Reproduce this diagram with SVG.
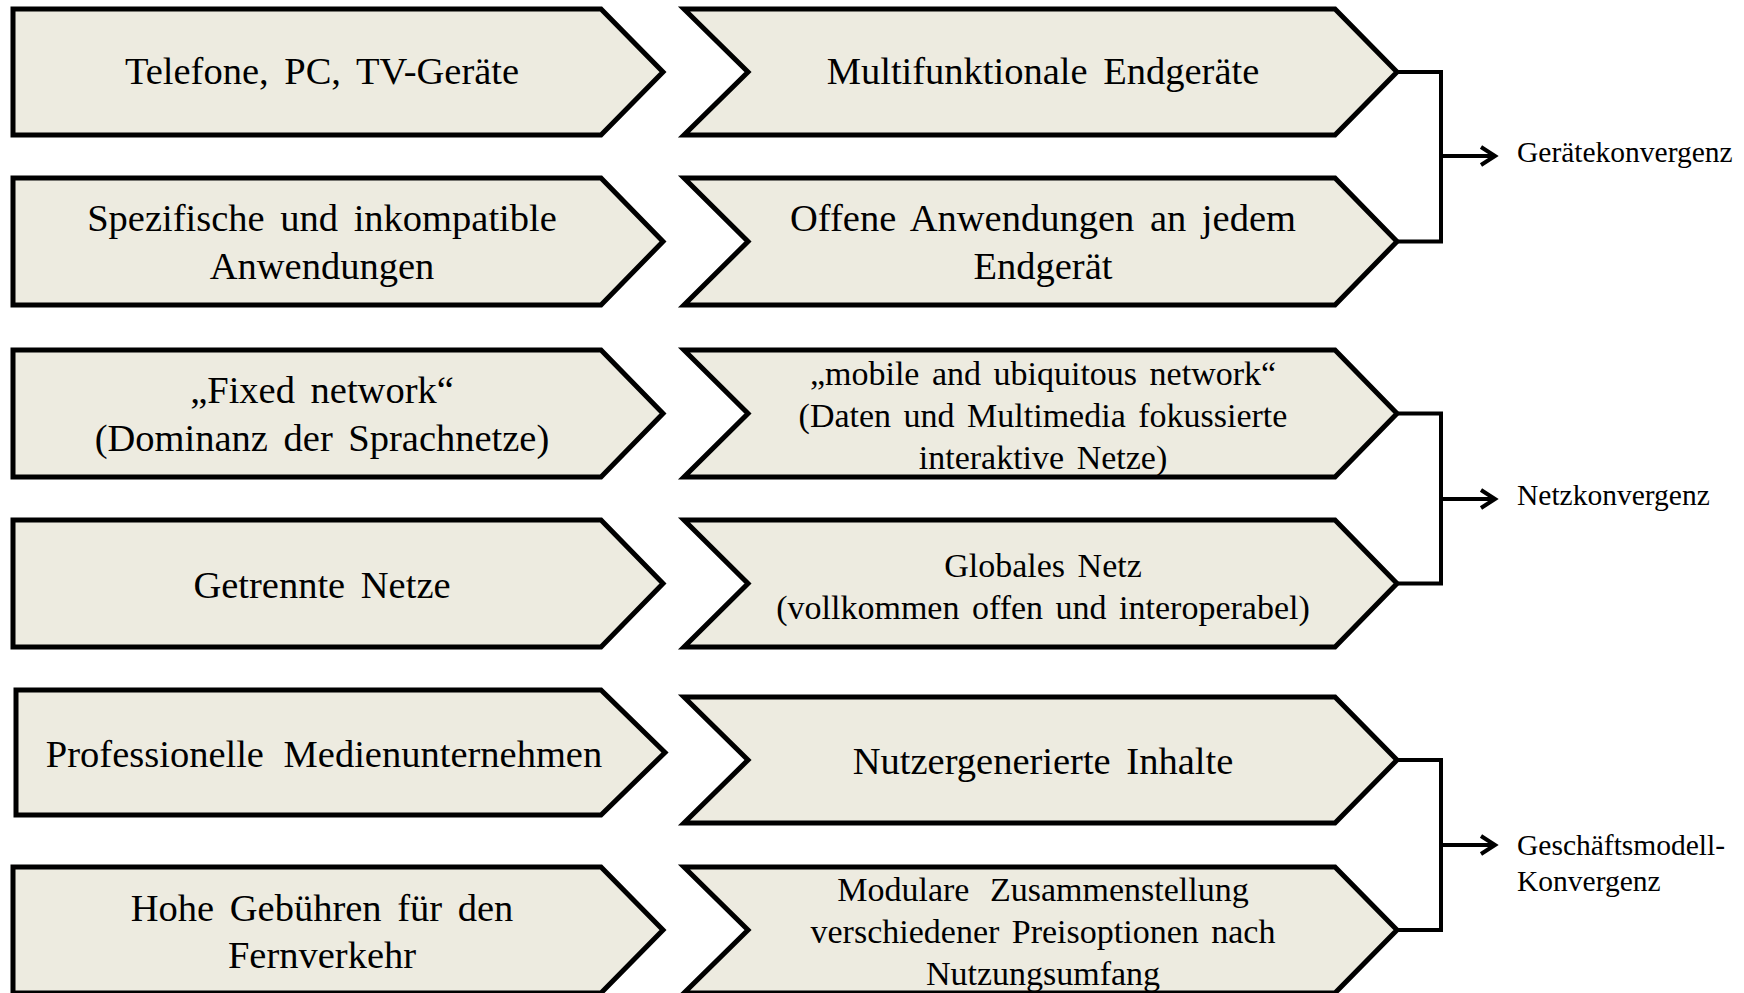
<svg xmlns="http://www.w3.org/2000/svg" width="1744" height="993" viewBox="0 0 1744 993">
<defs>
<style>
.box{fill:#EDEBE0;stroke:#000;stroke-width:5;stroke-linejoin:miter}
.t{font-family:"Liberation Serif","Times New Roman",serif;font-size:38.5px;fill:#000;text-anchor:middle;word-spacing:6px}
.s{font-family:"Liberation Serif","Times New Roman",serif;font-size:34px;fill:#000;text-anchor:middle;word-spacing:4px}
.lab{font-family:"Liberation Serif","Times New Roman",serif;font-size:29.5px;fill:#000}
.br{fill:none;stroke:#000;stroke-width:4}
</style>
<marker id="ah" markerWidth="22" markerHeight="22" viewBox="0 0 22 22" refX="18" refY="11" orient="auto" markerUnits="userSpaceOnUse">
<path d="M4,2 L18,11 L4,20" fill="none" stroke="#000" stroke-width="4"/>
</marker>
</defs>
<rect width="1744" height="993" fill="#fff"/>

<g id="l1"><polygon class="box" points="13,9 601,9 663,72 601,135 13,135"/><text class="t" x="322" y="84">Telefone, PC, TV-Geräte</text></g>
<g id="l2"><polygon class="box" points="13,178 601,178 663,241.5 601,305 13,305"/><text class="t" x="322" y="231">Spezifische und inkompatible</text><text class="t" x="322" y="279">Anwendungen</text></g>
<g id="l3"><polygon class="box" points="13,350 601,350 663,413.5 601,477 13,477"/><text class="t" x="322" y="403">„Fixed network“</text><text class="t" x="322" y="451">(Dominanz der Sprachnetze)</text></g>
<g id="l4"><polygon class="box" points="13,520 601,520 663,583.5 601,647 13,647"/><text class="t" x="322" y="598">Getrennte Netze</text></g>
<g id="l5"><polygon class="box" points="16,690 601,690 665,752.5 601,815 16,815"/><text class="t" x="324" y="767" style="word-spacing:10px">Professionelle Medienunternehmen</text></g>
<g id="l6"><polygon class="box" points="13,867 601,867 663,930 601,993 13,993"/><text class="t" x="322" y="921">Hohe Gebühren für den</text><text class="t" x="322" y="968">Fernverkehr</text></g>

<g id="r1"><polygon class="box" points="684,9 1335,9 1397,72 1335,135 684,135 748,72"/><text class="t" x="1043" y="84">Multifunktionale Endgeräte</text></g>
<g id="r2"><polygon class="box" points="684,178 1335,178 1397,241.5 1335,305 684,305 748,241.5"/><text class="t" x="1043" y="231">Offene Anwendungen an jedem</text><text class="t" x="1043" y="279">Endgerät</text></g>
<g id="r3"><polygon class="box" points="684,350 1335,350 1397,413.5 1335,477 684,477 748,413.5"/><text class="s" x="1043" y="385">„mobile and ubiquitous network“</text><text class="s" x="1043" y="427">(Daten und Multimedia fokussierte</text><text class="s" x="1043" y="469">interaktive Netze)</text></g>
<g id="r4"><polygon class="box" points="684,520 1335,520 1397,583.5 1335,647 684,647 748,583.5"/><text class="s" x="1043" y="577">Globales Netz</text><text class="s" x="1043" y="619">(vollkommen offen und interoperabel)</text></g>
<g id="r5"><polygon class="box" points="684,697 1335,697 1397,760 1335,823 684,823 748,760"/><text class="t" x="1043" y="774">Nutzergenerierte Inhalte</text></g>
<g id="r6"><polygon class="box" points="684,867 1335,867 1397,930 1335,993 684,993 748,930"/><text class="s" x="1043" y="901" style="word-spacing:12px">Modulare Zusammenstellung</text><text class="s" x="1043" y="943">verschiedener Preisoptionen nach</text><text class="s" x="1043" y="985">Nutzungsumfang</text></g>

<g id="connectors">
<path class="br" d="M1397,72 H1441 V241.5 H1397"/>
<path class="br" d="M1441,156 H1495" marker-end="url(#ah)"/>
<path class="br" d="M1397,413.5 H1441 V583.5 H1397"/>
<path class="br" d="M1441,499 H1495" marker-end="url(#ah)"/>
<path class="br" d="M1397,760 H1441 V930 H1397"/>
<path class="br" d="M1441,845 H1495" marker-end="url(#ah)"/>
</g>

<g id="labels">
<text class="lab" x="1517" y="162">Gerätekonvergenz</text>
<text class="lab" x="1517" y="505">Netzkonvergenz</text>
<text class="lab" x="1517" y="855">Geschäftsmodell-</text>
<text class="lab" x="1517" y="891">Konvergenz</text>
</g>
</svg>
